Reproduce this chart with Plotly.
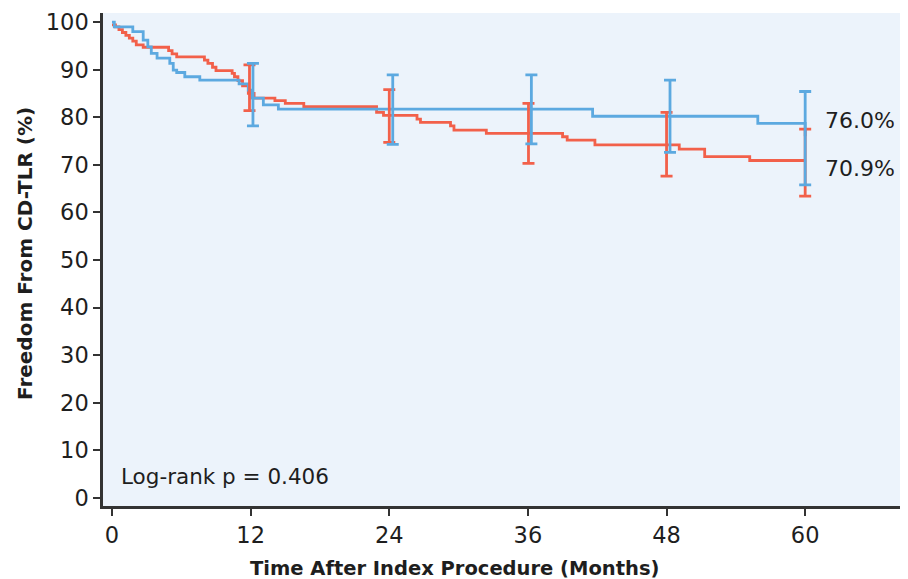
import plotly.graph_objects as go

# ---- data ----
blue_t = [0, 0.2, 1.8, 2.7, 3.1, 3.4, 3.9, 5.0, 5.3, 5.6, 6.3, 7.6, 11.0, 11.8, 12.1, 13.1, 14.4, 41.6, 55.9, 60]
blue_s = [100, 99.0, 98.0, 96.2, 94.8, 93.4, 92.4, 91.3, 89.9, 89.4, 88.5, 87.8, 87.0, 85.7, 84.0, 82.6, 81.7, 80.2, 78.7, 76.0]

red_t = [0, 0.3, 0.6, 0.9, 1.2, 1.5, 1.8, 2.1, 2.7, 4.9, 5.2, 5.6, 8.0, 8.3, 8.7, 9.0, 10.4, 10.6, 10.9,
         11.3, 11.8, 12.3, 14.1, 15.0, 16.6, 22.9, 23.5, 26.4, 26.7, 29.3, 29.6, 32.4, 39.0, 39.4, 41.8,
         49.1, 51.3, 55.2, 60]
red_s = [99.4, 99.0, 98.4, 97.8, 97.2, 96.6, 96.0, 95.2, 94.7, 94.0, 93.3, 92.7, 92.0, 91.3, 90.5, 89.8, 89.2, 88.5, 87.7,
         86.6, 85.0, 84.0, 83.5, 82.9, 82.2, 81.0, 80.4, 79.6, 78.9, 78.2, 77.3, 76.6, 75.9, 75.2, 74.2,
         73.3, 71.7, 70.9, 70.9]

red_ci_t = [11.9, 24.0, 36.05, 48.0, 60.0]
red_ci_upper = [91.0, 85.8, 82.9, 81.0, 77.5]
red_ci_lower = [81.4, 74.7, 70.3, 67.6, 63.4]

blue_ci_t = [12.2, 24.3, 36.3, 48.3, 60.0]
blue_ci_upper = [91.3, 88.9, 88.9, 87.8, 85.4]
blue_ci_lower = [78.2, 74.3, 74.4, 72.6, 65.8]

x_ticks = [0, 12, 24, 36, 48, 60]
y_ticks = [0, 10, 20, 30, 40, 50, 60, 70, 80, 90, 100]

final_labels = ["76.0%", "70.9%"]
final_label_y = [79.4, 69.3]
pvalue_text = "Log-rank p = 0.406"
x_title = "Time After Index Procedure (Months)"
y_title = "Freedom From CD-TLR (%)"

RED = "#F2604A"
BLUE = "#5CA9E0"
TXT = "#1E1E1E"
FONT = "DejaVu Sans"

fig = go.Figure()

fig.add_trace(go.Scatter(x=red_t, y=red_s, mode="lines", line=dict(color=RED, width=2.8, shape="hv"),
                         showlegend=False, hoverinfo="skip"))
fig.add_trace(go.Scatter(x=blue_t, y=blue_s, mode="lines", line=dict(color=BLUE, width=2.8, shape="hv"),
                         showlegend=False, hoverinfo="skip"))


def ci_trace(t, up, lo, color):
    mid = [(u + l) / 2 for u, l in zip(up, lo)]
    half = [(u - l) / 2 for u, l in zip(up, lo)]
    return go.Scatter(x=t, y=mid, mode="markers", marker=dict(size=1, opacity=0),
                      error_y=dict(type="data", array=half, visible=True, color=color, thickness=2.8, width=6),
                      showlegend=False, hoverinfo="skip")


fig.add_trace(ci_trace(red_ci_t, red_ci_upper, red_ci_lower, RED))
fig.add_trace(ci_trace(blue_ci_t, blue_ci_upper, blue_ci_lower, BLUE))

for txt, yv in zip(final_labels, final_label_y):
    fig.add_annotation(x=61.5, y=yv, text=txt, showarrow=False, xanchor="left", yanchor="middle",
                       font=dict(family=FONT, size=22, color=TXT))

fig.add_annotation(x=0.6, y=4.5, text=pvalue_text, showarrow=False, xanchor="left", yanchor="middle",
                   font=dict(family=FONT, size=21.5, color=TXT))

fig.add_annotation(x=0.437, y=-0.126, xref="paper", yref="paper", text="<b>" + x_title + "</b>",
                   showarrow=False, xanchor="center", yanchor="middle",
                   font=dict(family=FONT, size=19.5, color=TXT))
fig.add_annotation(x=-0.097, y=0.513, xref="paper", yref="paper", text="<b>" + y_title + "</b>",
                   showarrow=False, xanchor="center", yanchor="middle", textangle=-90,
                   font=dict(family=FONT, size=20, color=TXT))

# page body has an 8px margin, so the figure is 8px smaller and its margins shifted
fig.update_layout(
    width=900, height=571,
    margin=dict(l=95, r=0, t=5, b=73, autoexpand=False),
    paper_bgcolor="white",
    plot_bgcolor="#ECF3FB",
    font=dict(family=FONT, color=TXT),
)
fig.update_xaxes(range=[-0.78, 68.9], tickvals=x_ticks, ticktext=[str(v) for v in x_ticks],
                 showgrid=False, zeroline=False, showline=True, linecolor="#333333", linewidth=2.5,
                 ticks="outside", ticklen=7, tickwidth=2, tickcolor="#333333", automargin=False,
                 tickfont=dict(family=FONT, size=22.5, color=TXT))
fig.update_yaxes(range=[-1.7, 101.9], tickvals=y_ticks, ticktext=[str(v) for v in y_ticks],
                 showgrid=False, zeroline=False, showline=True, linecolor="#333333", linewidth=2.5,
                 ticks="outside", ticklen=7, tickwidth=2, tickcolor="#333333", automargin=False,
                 tickfont=dict(family=FONT, size=22.5, color=TXT))

fig.write_html("out.html")
